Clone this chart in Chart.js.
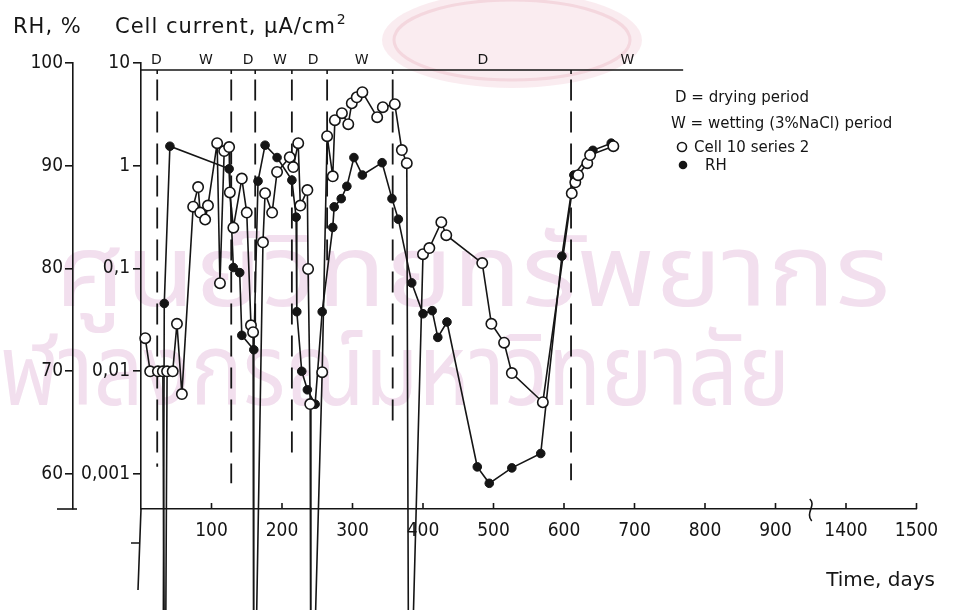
<!DOCTYPE html>
<html>
<head>
<meta charset="utf-8">
<script src="https://cdn.jsdelivr.net/npm/chart.js@4.4.1/dist/chart.umd.min.js"></script>
<style>
  html, body { margin: 0; padding: 0; background: #fff; }
  #wrap { position: relative; width: 958px; height: 610px; }
</style>
</head>
<body>
<div id="wrap"><canvas id="chart"></canvas></div>
<script>
// Exposure time in days. Values past 900 sit on the compressed part of the axis
// (1000 is drawn as 1400 and 1100 as 1500).
const cellDays = [6, 13, 24, 31, 34, 37, 45, 51, 58, 74, 81, 84, 91, 95, 108, 112, 118, 125, 126, 131,
  143, 150, 156, 159, 160, 173, 176, 186, 193, 211, 216, 223, 226, 236, 237, 240, 241, 257, 264, 272, 275,
  285, 294, 299, 306, 314, 335, 343, 360, 370, 377, 380, 400, 409, 426, 433, 484, 497, 515, 526, 570,
  611, 616, 620, 633, 637, 670];
// Cell current, µA/cm² (1e-6 = dropped below the bottom of the scale)
const cellCurrent = [0.021, 0.010, 0.010, 0.010, 0.000001, 0.010, 0.010, 0.029, 0.006, 0.40, 0.62, 0.35, 0.30, 0.41, 1.66, 0.072, 1.39, 1.52, 0.55, 0.25,
  0.75, 0.35, 0.028, 0.024, 0.000001, 0.18, 0.54, 0.35, 0.87, 1.21, 0.97, 1.66, 0.41, 0.58, 0.099, 0.0048, 0.000001, 0.0098, 1.94, 0.79, 2.78,
  3.25, 2.54, 4.06, 4.64, 5.20, 2.97, 3.72, 3.97, 1.42, 1.06, 0.000001, 0.138, 0.158, 0.282, 0.211, 0.113, 0.029, 0.019, 0.0096, 0.0050,
  0.54, 0.69, 0.81, 1.06, 1.27, 1.55];

const rhDays = [31, 33, 41, 125, 131, 140, 143, 160, 166, 176, 193, 214, 220, 221, 228, 236, 247,
  257, 272, 274, 284, 292, 302, 314, 342, 356, 365, 384, 400, 413, 421, 434, 477, 494, 526, 567, 597,
  614, 641, 667];
// Relative humidity, % (30 = below the bottom of the scale)
const rhValues = [30, 76.6, 91.9, 89.7, 80.1, 79.6, 73.5, 72.1, 88.5, 92.0, 90.8, 88.6, 85.0, 75.8, 70.0, 68.2, 66.8,
  75.8, 84.0, 86.0, 86.8, 88.0, 90.8, 89.1, 90.3, 86.8, 84.8, 78.6, 75.6, 75.9, 73.3, 74.8, 60.7, 59.1, 60.6, 62.0, 81.2,
  89.1, 91.5, 92.2];

// Drying / wetting periods
const periodBoundaries = [23, 128, 162, 214, 264, 357, 610];
const periodLabels = ['D', 'W', 'D', 'W', 'D', 'W', 'D', 'W'];
const periodLabelDays = [22, 92, 152, 197, 244, 313, 485, 690];

// Axis ticks
const timeTicks = [100, 200, 300, 400, 500, 600, 700, 800, 900, 1000, 1100];
const timeTickLabels = ['100', '200', '300', '400', '500', '600', '700', '800', '900', '1400', '1500'];
const rhTicks = [100, 90, 80, 70, 60];
const currentTicks = [10, 1, 0.1, 0.01, 0.001];
const currentTickLabels = ['10', '1', '0,1', '0,01', '0,001'];

// Both vertical scales share one frame: RH = 90 + 10·log10(current)
const rhMin = 56.6, rhMax = 100;
const curMin = Math.pow(10, (rhMin - 90) / 10), curMax = Math.pow(10, (rhMax - 90) / 10);

const INK = '#151515';
const tickFont = "'DejaVu Sans Condensed', 'DejaVu Sans', sans-serif";
const textFont = "'DejaVu Sans', sans-serif";
const thaiFont = "'Noto Sans Thai', 'Noto Sans', 'DejaVu Sans', sans-serif";

const style = {
  dashTopRH: 98.4,
  dashEndsRH: [60.7, 59.1, 74.0, 61.8, 80.8, 64.5, 59.4],
  periodLineEnd: 769,
  breakAt: 950
};

// Draws a line of text stretched horizontally so that it spans [x0, x1]
function fitText(ctx, text, x0, x1, baseline, skipPrefix) {
  const full = ctx.measureText(text).width;
  const pre = skipPrefix ? ctx.measureText(skipPrefix).width : 0;
  const sx = (x1 - x0) / (full - pre);
  ctx.save();
  ctx.translate(x0 - pre * sx, baseline);
  ctx.scale(sx, 1);
  ctx.fillText(text, 0, 0);
  ctx.restore();
}

const decor = {
  id: 'decor',
  beforeDraw(chart) {
    const ctx = chart.ctx;
    ctx.save();
    ctx.fillStyle = '#fff';
    ctx.fillRect(0, 0, chart.width, chart.height);
    // library stamp in the background
    ctx.fillStyle = 'rgba(240, 196, 208, 0.32)';
    ctx.beginPath();
    ctx.ellipse(512, 40, 130, 48, 0, 0, Math.PI * 2);
    ctx.fill();
    ctx.strokeStyle = 'rgba(222, 140, 160, 0.22)';
    ctx.lineWidth = 3;
    ctx.beginPath();
    ctx.ellipse(512, 40, 118, 40, 0, 0, Math.PI * 2);
    ctx.stroke();
    ctx.fillStyle = '#f2dfee';
    ctx.font = "100px " + thaiFont;
    ctx.textBaseline = 'alphabetic';
    ctx.textAlign = 'left';
    fitText(ctx, 'ศูนย์วิทยทรัพยากร', 55, 890, 306);
    fitText(ctx, 'จุฬาลงกรณ์มหาวิทยาลัย', 0, 790, 405, 'จุ');
    ctx.restore();
  },
  beforeDatasetsDraw(chart) {
    const ctx = chart.ctx, x = chart.scales.x, yRH = chart.scales.yRH, a = chart.chartArea;
    ctx.save();
    ctx.strokeStyle = INK;
    ctx.fillStyle = INK;
    // period boundaries
    ctx.lineWidth = 1.8;
    ctx.setLineDash([21, 11]);
    periodBoundaries.forEach((d, i) => {
      const px = x.getPixelForValue(d);
      ctx.beginPath();
      ctx.moveTo(px, yRH.getPixelForValue(style.dashTopRH));
      ctx.lineTo(px, yRH.getPixelForValue(style.dashEndsRH[i]));
      ctx.stroke();
    });
    ctx.setLineDash([]);
    // period strip along the top
    const topY = a.top + 7;
    ctx.lineWidth = 1.6;
    ctx.beginPath();
    ctx.moveTo(a.left, topY);
    ctx.lineTo(x.getPixelForValue(style.periodLineEnd), topY);
    ctx.stroke();
    periodBoundaries.forEach(d => {
      const px = x.getPixelForValue(d);
      ctx.beginPath();
      ctx.moveTo(px, topY);
      ctx.lineTo(px, topY + 4);
      ctx.stroke();
    });
    ctx.font = "14px " + textFont;
    ctx.textAlign = 'center';
    ctx.textBaseline = 'alphabetic';
    periodLabels.forEach((t, i) => ctx.fillText(t, x.getPixelForValue(periodLabelDays[i]), topY - 6));
    // current axis continues below the time axis
    ctx.lineWidth = 1.6;
    ctx.beginPath();
    ctx.moveTo(a.left, a.bottom);
    ctx.lineTo(a.left - 3, a.bottom + 81);
    ctx.moveTo(a.left - 1.5, a.bottom + 34);
    ctx.lineTo(a.left - 10, a.bottom + 34);
    ctx.stroke();
    // end mark of the RH axis
    const rhX = yRH.right;
    ctx.beginPath();
    ctx.moveTo(rhX - 16, a.bottom);
    ctx.lineTo(rhX + 4, a.bottom);
    ctx.stroke();
    // inward ticks on the time axis
    timeTicks.forEach(v => {
      const px = x.getPixelForValue(v);
      ctx.beginPath();
      ctx.moveTo(px, a.bottom);
      ctx.lineTo(px, a.bottom - 6);
      ctx.stroke();
    });
    // axis break
    const bx = x.getPixelForValue(style.breakAt);
    ctx.beginPath();
    ctx.moveTo(bx - 1, a.bottom - 10);
    ctx.bezierCurveTo(bx + 6, a.bottom - 4, bx - 6, a.bottom + 4, bx + 1, a.bottom + 12);
    ctx.stroke();
    ctx.restore();
  },
  afterDraw(chart) {
    const ctx = chart.ctx;
    ctx.save();
    ctx.fillStyle = INK;
    ctx.textBaseline = 'alphabetic';
    ctx.textAlign = 'left';
    ctx.font = "21px " + textFont;
    ctx.letterSpacing = '1px';
    ctx.fillText('RH, %', 13, 33);
    ctx.fillText('Cell current, µA/cm', 115, 33);
    const w = ctx.measureText('Cell current, µA/cm').width;
    ctx.letterSpacing = '0px';
    ctx.font = "14px " + textFont;
    ctx.fillText('2', 115 + w + 1, 24);
    ctx.font = "20px " + textFont;
    ctx.textAlign = 'right';
    ctx.fillText('Time, days', 935, 586);
    // key
    ctx.textAlign = 'left';
    ctx.font = "15px " + textFont;
    ctx.fillText('D = drying period', 675, 102);
    ctx.fillText('W = wetting (3%NaCl) period', 671, 128);
    ctx.fillText('Cell 10 series 2', 694, 152);
    ctx.fillText('RH', 705, 170);
    ctx.lineWidth = 1.6;
    ctx.strokeStyle = INK;
    ctx.beginPath();
    ctx.arc(682, 147, 4.5, 0, Math.PI * 2);
    ctx.stroke();
    ctx.beginPath();
    ctx.arc(683, 165, 4.3, 0, Math.PI * 2);
    ctx.fill();
    ctx.restore();
  }
};

const axisGrid = { drawOnChartArea: false, color: INK, lineWidth: 1.6, tickLength: 8 };
const axisBorder = { display: true, color: INK, width: 1.6 };

new Chart(document.getElementById('chart'), {
  type: 'line',
  data: {
    datasets: [
      {
        label: 'Cell 10 series 2',
        yAxisID: 'yI',
        data: cellDays.map((d, i) => ({ x: d, y: cellCurrent[i] })),
        borderColor: INK,
        borderWidth: 1.6,
        pointRadius: 5.2,
        pointBackgroundColor: '#fff',
        pointBorderColor: INK,
        pointBorderWidth: 1.6,
        tension: 0,
        clip: false
      },
      {
        label: 'RH',
        yAxisID: 'yRH',
        data: rhDays.map((d, i) => ({ x: d, y: rhValues[i] })),
        borderColor: INK,
        borderWidth: 1.6,
        pointRadius: 4.3,
        pointBackgroundColor: INK,
        pointBorderColor: INK,
        pointBorderWidth: 1,
        tension: 0,
        clip: false
      }
    ]
  },
  options: {
    responsive: true,
    maintainAspectRatio: false,
    animation: false,
    events: [],
    layout: { padding: { left: 0, top: 63, right: 41.5, bottom: 0 } },
    plugins: { legend: { display: false }, tooltip: { enabled: false } },
    scales: {
      x: {
        type: 'linear',
        min: 0,
        max: 1100,
        bounds: 'data',
        afterBuildTicks: s => { s.ticks = timeTicks.map(v => ({ value: v })); },
        afterFit: s => { s.height = 101; },
        grid: { drawOnChartArea: false, drawTicks: false },
        border: axisBorder,
        ticks: {
          color: INK,
          font: { family: tickFont, size: 19 },
          padding: 11,
          maxRotation: 0,
          autoSkip: false,
          callback: (v, i) => timeTickLabels[i]
        }
      },
      yRH: {
        type: 'linear',
        position: 'left',
        weight: 2,
        min: rhMin,
        max: rhMax,
        bounds: 'data',
        afterBuildTicks: s => { s.ticks = rhTicks.map(v => ({ value: v })); },
        afterFit: s => { s.width = 73; },
        grid: axisGrid,
        border: axisBorder,
        ticks: { color: INK, font: { family: tickFont, size: 19 }, padding: 2, autoSkip: false, callback: v => String(v) }
      },
      yI: {
        type: 'logarithmic',
        position: 'left',
        weight: 1,
        min: curMin,
        max: curMax,
        bounds: 'data',
        afterBuildTicks: s => { s.ticks = currentTicks.map(v => ({ value: v })); },
        afterFit: s => { s.width = 68; },
        grid: axisGrid,
        border: axisBorder,
        ticks: { color: INK, font: { family: tickFont, size: 19 }, padding: 3, autoSkip: false, callback: (v, i) => currentTickLabels[i] }
      }
    }
  },
  plugins: [decor]
});
</script>
</body>
</html>
